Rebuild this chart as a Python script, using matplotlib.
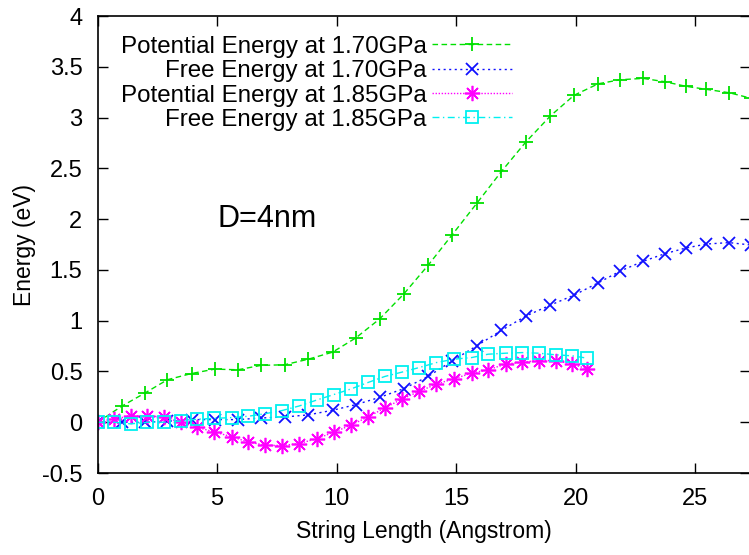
import numpy as np
import matplotlib
matplotlib.use("Agg")
import matplotlib.pyplot as plt

plt.rcParams['font.family'] = ['Liberation Sans', 'DejaVu Sans']

# string images for the 1.70 GPa runs
x_170 = [0, 1.0, 1.98, 2.92, 3.93, 4.89, 5.87, 6.84, 7.82, 8.8, 9.83, 10.8, 11.8, 12.8,
         13.83, 14.84, 15.88, 16.9, 17.92, 18.95, 19.94, 20.95, 21.88, 22.83, 23.74,
         24.62, 25.48, 26.43, 27.35]
pe_170 = [0, 0.157, 0.288, 0.419, 0.48, 0.523, 0.517, 0.56, 0.566, 0.62, 0.69, 0.83,
          1.017, 1.26, 1.546, 1.847, 2.16, 2.47, 2.76, 3.017, 3.22, 3.333, 3.373, 3.386,
          3.353, 3.308, 3.278, 3.245, 3.19]
fe_170 = [0, 0, 0, 0.01, 0.026, 0.026, 0.026, 0.042, 0.052, 0.072, 0.118, 0.173, 0.245,
          0.33, 0.451, 0.605, 0.755, 0.905, 1.046, 1.154, 1.252, 1.373, 1.49, 1.585,
          1.66, 1.716, 1.755, 1.769, 1.745]

# string images for the 1.85 GPa runs
x_185 = [0, 0.69, 1.38, 2.08, 2.77, 3.47, 4.17, 4.87, 5.61, 6.30, 7.0, 7.71, 8.43, 9.16,
         9.87, 10.59, 11.32, 12.02, 12.74, 13.46, 14.18, 14.91, 15.65, 16.34, 17.07,
         17.77, 18.46, 19.18, 19.86, 20.49]
pe_185 = [0, 0.035, 0.06, 0.065, 0.05, 0.0, -0.05, -0.095, -0.143, -0.195, -0.225, -0.23,
          -0.21, -0.162, -0.10, -0.029, 0.053, 0.141, 0.229, 0.304, 0.376, 0.428, 0.484,
          0.517, 0.572, 0.592, 0.608, 0.608, 0.572, 0.526]
fe_185 = [0, 0, -0.016, 0, 0, 0.012, 0.03, 0.038, 0.046, 0.059, 0.084, 0.115, 0.16, 0.218,
          0.272, 0.327, 0.392, 0.451, 0.494, 0.539, 0.588, 0.621, 0.637, 0.67, 0.68,
          0.686, 0.68, 0.664, 0.654, 0.631]

yticks = [-0.5, 0, 0.5, 1, 1.5, 2, 2.5, 3, 3.5, 4]
ytick_labels = ['-0.5', '0', '0.5', '1', '1.5', '2', '2.5', '3', '3.5', '4']
xticks = [0, 5, 10, 15, 20, 25]

fig = plt.figure(figsize=(7.49, 5.55), dpi=100)
ax = fig.add_axes([0.1304, 0.1477, 0.8709, 0.8234])

lw = 1.0
ax.plot(x_170, pe_170, color='#00e000', ls=(0, (4, 2.5)), lw=lw, marker='+', ms=10,
        mew=1.3, label='Potential Energy at 1.70GPa')
ax.plot(x_170, fe_170, color='#1010ff', ls=(0, (1.5, 2.5)), lw=lw, marker='x', ms=9,
        mew=1.3, label='Free Energy at 1.70GPa')
ax.plot(x_185, pe_185, color='#ff00ff', ls=(0, (1, 1.2)), lw=lw, marker=(8, 2, 0), ms=11,
        mew=1.2, label='Potential Energy at 1.85GPa')
ax.plot(x_185, fe_185, color='#00f0f0', ls=(0, (5, 2.5, 1, 2.5)), lw=lw, marker='s', ms=9,
        mew=1.3, mfc='none', label='Free Energy at 1.85GPa')

ax.set_xlim(0, 27.3)
ax.set_ylim(-0.5, 4)
ax.set_xticks(xticks)
ax.set_xticklabels([str(t) for t in xticks])
ax.set_yticks(yticks)
ax.set_yticklabels(ytick_labels)
ax.tick_params(direction='in', length=7, width=1, labelsize=17, top=True, right=True)
ax.tick_params(axis='x', pad=11)
ax.tick_params(axis='y', pad=11)
for s in ax.spines.values():
    s.set_linewidth(1.2)

ax.set_xlabel('String Length (Angstrom)', fontsize=16.5, labelpad=7)
ax.set_ylabel('Energy (eV)', fontsize=16.5, labelpad=4)
ax.text(5, 2, 'D=4nm', fontsize=22, ha='left', va='center')

leg = ax.legend(loc='upper left', bbox_to_anchor=(0.035, 0.957), frameon=False,
                markerfirst=False, fontsize=17.4, handlelength=3.3, handletextpad=0.25,
                labelspacing=0.1, borderpad=0, borderaxespad=0)
# right-align the legend text like gnuplot does
for col in leg._legend_box.get_children()[1].get_children():
    col.align = 'right'

fig.savefig('out.png', dpi=100)
